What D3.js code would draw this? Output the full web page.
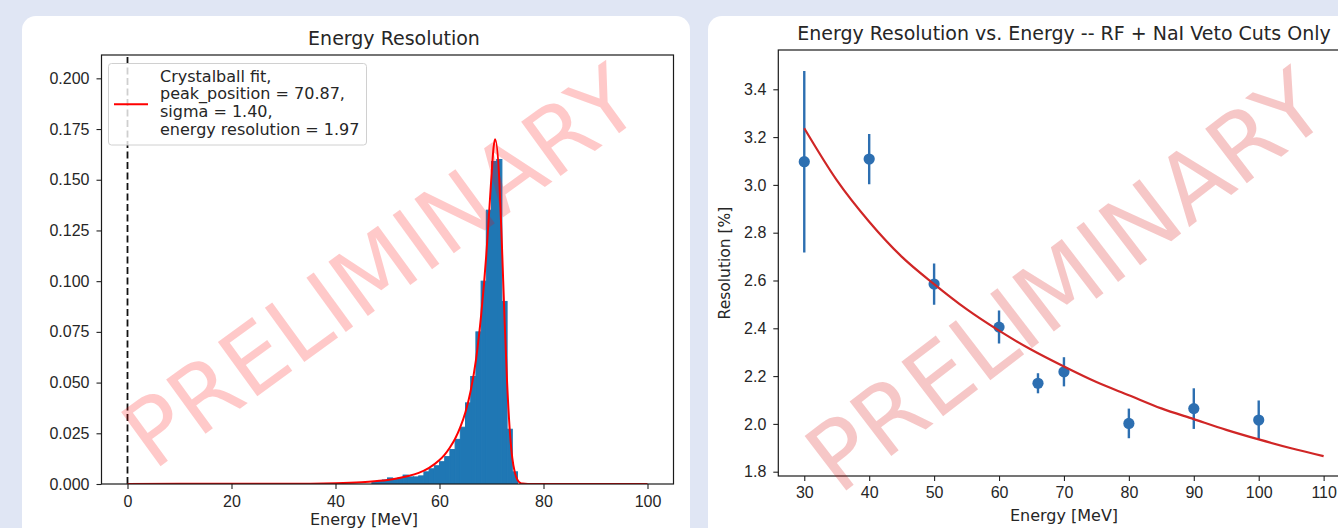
<!DOCTYPE html>
<html>
<head>
<meta charset="utf-8">
<script src="https://cdn.jsdelivr.net/npm/d3@7"></script>
<style>
  body { margin: 0; background: #e0e6f4; }
  svg { display: block; font-family: "DejaVu Sans", sans-serif; }
  .tick text { fill: #262626; font-size: 16px; }
  .tick line { stroke: #222; stroke-width: 1.1; }
</style>
</head>
<body>
<svg id="chart" width="1338" height="528"></svg>
<script>
// left plot: histogram of energy (density, 1 MeV bins)
var histBins = [47, 48, 49, 50, 51, 52, 53, 54, 55, 56, 57, 58, 59, 60, 61, 62, 63, 64, 65, 66, 67, 68, 69, 70, 71, 72, 73, 74];
var histDensity = [0.001, 0.0015, 0.002, 0.003, 0.0025, 0.003, 0.0044, 0.0035, 0.0035, 0.004, 0.006, 0.0075, 0.009, 0.011,
  0.0135, 0.017, 0.022, 0.028, 0.040, 0.053, 0.075, 0.100, 0.135, 0.159, 0.160, 0.090, 0.027, 0.006];

// crystalball fit
var fitE = [0, 20, 30, 40, 45, 48, 50, 52, 54, 56, 58, 60, 61, 62, 63, 64, 65, 66, 67, 68, 69, 69.5, 70, 70.4, 70.7,
  71.5, 72, 72.5, 73, 73.5, 74, 74.5, 75, 75.5, 76, 77, 80, 100];
var fitDensity = [0.00005, 0.00008, 0.0001, 0.0004, 0.0009, 0.0015, 0.002, 0.0028, 0.0039, 0.0055, 0.008, 0.0118, 0.0145,
  0.018, 0.0223, 0.028, 0.0355, 0.046, 0.061, 0.083, 0.113, 0.132, 0.152, 0.166, 0.170,
  0.150, 0.118, 0.082, 0.050, 0.027, 0.0127, 0.0055, 0.002, 0.0006, 0.0002, 0.00002, 0, 0];

var legendLines = ["Crystalball fit,", "peak_position = 70.87,", "sigma = 1.40,", "energy resolution = 1.97"];
var leftXTicks = [0, 20, 40, 60, 80, 100];
var leftYTicks = [0, 0.025, 0.05, 0.075, 0.1, 0.125, 0.15, 0.175, 0.2];

// right plot: resolution vs energy
var beamEnergy = [30, 40, 50, 60, 66, 70, 80, 90, 100];
var resolution = [3.097, 3.108, 2.585, 2.405, 2.17, 2.218, 2.002, 2.064, 2.016];
var resolutionErr = [0.38, 0.105, 0.086, 0.069, 0.042, 0.061, 0.062, 0.085, 0.082];
var curveE = [30, 35, 40, 45, 50, 55, 60, 65, 70, 75, 80, 85, 90, 95, 100, 105, 110];
var curveRes = [3.237, 3.02, 2.846, 2.70, 2.585, 2.48, 2.39, 2.31, 2.24, 2.175, 2.12, 2.065, 2.02, 1.975, 1.935, 1.898, 1.865];
var rightXTicks = [30, 40, 50, 60, 70, 80, 90, 100, 110];
var rightYTicks = [1.8, 2.0, 2.2, 2.4, 2.6, 2.8, 3.0, 3.2, 3.4];

var svg = d3.select("#chart");
var ink = "#262626";

svg.append("rect").attr("width", 1338).attr("height", 528).attr("fill", "#e0e6f4");
svg.append("rect").attr("x", 22).attr("y", 16).attr("width", 668).attr("height", 560).attr("rx", 14).attr("fill", "#fff");
svg.append("rect").attr("x", 708).attr("y", 16).attr("width", 680).attr("height", 560).attr("rx", 14).attr("fill", "#fff");

function watermark(cx, cy, angle, size, color, op) {
  svg.append("text")
    .attr("transform", "translate(" + cx + "," + cy + ") rotate(" + angle + ")")
    .attr("text-anchor", "middle")
    .attr("dy", "0.36em")
    .style("font-size", size + "px")
    .attr("fill", color)
    .attr("fill-opacity", op)
    .text("PRELIMINARY");
}

/* ---------- left: energy resolution histogram ---------- */
var xL = d3.scaleLinear().domain([-5, 105]).range([101.5, 673.5]),
  yL = d3.scaleLinear().domain([0, 0.2115]).range([484, 55]);

var gl = svg.append("g");

gl.append("clipPath").attr("id", "clipL").append("rect")
  .attr("x", xL.range()[0]).attr("y", yL.range()[1])
  .attr("width", xL.range()[1] - xL.range()[0]).attr("height", yL.range()[0] - yL.range()[1]);

var plotL = gl.append("g").attr("clip-path", "url(#clipL)");

plotL.selectAll("rect.bar")
  .data(histBins)
  .enter().append("rect")
  .attr("class", "bar")
  .attr("x", function (d) { return xL(d); })
  .attr("width", function (d) { return xL(d + 1) - xL(d); })
  .attr("y", function (d, i) { return yL(histDensity[i]); })
  .attr("height", function (d, i) { return yL(0) - yL(histDensity[i]); })
  .attr("fill", "#1f77b4")
  .attr("stroke", "#1f77b4")
  .attr("stroke-width", 1);

plotL.append("line")
  .attr("x1", xL(0)).attr("x2", xL(0))
  .attr("y1", yL.range()[0]).attr("y2", yL.range()[1])
  .attr("stroke", "#111").attr("stroke-width", 1.8)
  .attr("stroke-dasharray", "7,3.5");

var fitLine = d3.line()
  .x(function (d, i) { return xL(fitE[i]); })
  .y(function (d) { return yL(d); })
  .curve(d3.curveMonotoneX);

plotL.append("path")
  .attr("d", fitLine(fitDensity))
  .attr("fill", "none").attr("stroke", "#ff0000").attr("stroke-width", 2);

gl.append("g").attr("transform", "translate(0,484)")
  .call(d3.axisBottom(xL).tickValues(leftXTicks).tickSize(5).tickPadding(6.5).tickFormat(d3.format("d")))
  .call(function (g) { g.select(".domain").remove(); });

gl.append("g").attr("transform", "translate(101.5,0)")
  .call(d3.axisLeft(yL).tickValues(leftYTicks).tickSize(5).tickPadding(7).tickFormat(d3.format(".3f")))
  .call(function (g) { g.select(".domain").remove(); });

gl.append("rect")
  .attr("x", xL.range()[0]).attr("y", yL.range()[1])
  .attr("width", xL.range()[1] - xL.range()[0]).attr("height", yL.range()[0] - yL.range()[1])
  .attr("fill", "none").attr("stroke", "#1a1a1a").attr("stroke-width", 1.2);

// legend
var lg = gl.append("g");
lg.append("rect")
  .attr("x", 108.5).attr("y", 63.5).attr("width", 258).attr("height", 81.5).attr("rx", 3)
  .attr("fill", "#fff").attr("fill-opacity", 0.8).attr("stroke", "#d0d0d0");
lg.append("line").attr("x1", 114).attr("x2", 148).attr("y1", 104.3).attr("y2", 104.3)
  .attr("stroke", "#ff0000").attr("stroke-width", 2);
lg.selectAll("text").data(legendLines).enter().append("text")
  .attr("x", 160).attr("y", function (d, i) { return 81.7 + i * 17.6; })
  .style("font-size", "16px").attr("fill", ink)
  .text(function (d) { return d; });

gl.append("text").attr("x", 394).attr("y", 45).attr("text-anchor", "middle")
  .style("font-size", "19px").attr("fill", ink).text("Energy Resolution");
gl.append("text").attr("x", 364).attr("y", 525).attr("text-anchor", "middle")
  .style("font-size", "16px").attr("fill", ink).text("Energy [MeV]");

watermark(380, 266, -36, 92, "#ff0000", 0.21);

/* ---------- right: resolution vs energy ---------- */
var xR = d3.scaleLinear().domain([26, 114]).range([778.3, 1349.6]),
  yR = d3.scaleLinear().domain([1.782, 3.5644]).range([476, 50]);

var gr = svg.append("g");

gr.append("clipPath").attr("id", "clipR").append("rect")
  .attr("x", xR.range()[0]).attr("y", yR.range()[1])
  .attr("width", xR.range()[1] - xR.range()[0]).attr("height", yR.range()[0] - yR.range()[1]);

var plotR = gr.append("g").attr("clip-path", "url(#clipR)");

var curve = d3.line()
  .x(function (d, i) { return xR(curveE[i]); })
  .y(function (d) { return yR(d); })
  .curve(d3.curveMonotoneX);

plotR.selectAll("line.err")
  .data(beamEnergy)
  .enter().append("line")
  .attr("class", "err")
  .attr("x1", function (d) { return xR(d); })
  .attr("x2", function (d) { return xR(d); })
  .attr("y1", function (d, i) { return yR(resolution[i] - resolutionErr[i]); })
  .attr("y2", function (d, i) { return yR(resolution[i] + resolutionErr[i]); })
  .attr("stroke", "#2d6fb1").attr("stroke-width", 2.4);

plotR.selectAll("circle")
  .data(beamEnergy)
  .enter().append("circle")
  .attr("cx", function (d) { return xR(d); })
  .attr("cy", function (d, i) { return yR(resolution[i]); })
  .attr("r", 5.6)
  .attr("fill", "#2d6fb1");

plotR.append("path")
  .attr("d", curve(curveRes))
  .attr("fill", "none").attr("stroke", "#d02626").attr("stroke-width", 2.2);

gr.append("g").attr("transform", "translate(0,476)")
  .call(d3.axisBottom(xR).tickValues(rightXTicks).tickSize(5).tickPadding(6).tickFormat(d3.format("d")))
  .call(function (g) { g.select(".domain").remove(); });

gr.append("g").attr("transform", "translate(778.3,0)")
  .call(d3.axisLeft(yR).tickValues(rightYTicks).tickSize(5).tickPadding(7).tickFormat(d3.format(".1f")))
  .call(function (g) { g.select(".domain").remove(); });

gr.append("rect")
  .attr("x", xR.range()[0]).attr("y", yR.range()[1])
  .attr("width", xR.range()[1] - xR.range()[0]).attr("height", yR.range()[0] - yR.range()[1])
  .attr("fill", "none").attr("stroke", "#1a1a1a").attr("stroke-width", 1.2);

gr.append("text").attr("x", 1064).attr("y", 40).attr("text-anchor", "middle")
  .style("font-size", "19px").attr("fill", ink)
  .text("Energy Resolution vs. Energy -- RF + NaI Veto Cuts Only");
gr.append("text").attr("x", 1064).attr("y", 521).attr("text-anchor", "middle")
  .style("font-size", "16px").attr("fill", ink).text("Energy [MeV]");
gr.append("text").attr("transform", "translate(730,263) rotate(-90)").attr("text-anchor", "middle")
  .style("font-size", "15.5px").attr("fill", ink).text("Resolution [%]");

watermark(1065, 280, -37.5, 94, "#d40000", 0.22);
</script>
</body>
</html>
